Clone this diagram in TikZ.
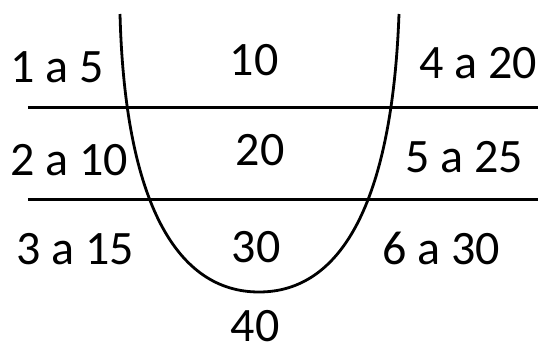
\documentclass[tikz,border=0pt]{standalone}
\usepackage{fontspec}
\setmainfont{Carlito}
\usetikzlibrary{positioning}

\begin{document}
\begin{tikzpicture}[
    x=0.5pt, y=-0.5pt,
    lbl/.style={inner sep=0pt, font=\fontsize{24}{28}\selectfont},
    rule/.style={line width=1.5pt},
    curve/.style={line width=1.4pt}
]
    \useasboundingbox (0,0) rectangle (538,349);

    % the U shape
    \coordinate (topL) at (120,14);
    \coordinate (bottom) at (259,292);
    \coordinate (topR) at (399,14);
    \draw[curve] (topL) .. controls (125,205) and (178,292) .. (bottom)
                 .. controls (340,292) and (392,205) .. (topR);

    % horizontal rules
    \coordinate (r1a) at (28,107);
    \coordinate (r1b) at (538,107);
    \coordinate (r2a) at (28,199);
    \coordinate (r2b) at (538,199);
    \draw[rule] (r1a) -- (r1b);
    \draw[rule] (r2a) -- (r2b);

    % labels
    \node[lbl] (left1) at (57,67) {1 a 5};
    \node[lbl] (mid1) at (254,60) {10};
    \node[lbl] (right1) at (478,63) {4 a 20};
    \node[lbl] (left2) at (69,160) {2 a 10};
    \node[lbl] (mid2) at (260,150) {20};
    \node[lbl] (right2) at (464,157) {5 a 25};
    \node[lbl] (left3) at (75,249) {3 a 15};
    \node[lbl] (mid3) at (256,247) {30};
    \node[lbl] (right3) at (441,248) {6 a 30};
    \node[lbl] (mid4) at (255,326) {40};
\end{tikzpicture}
\end{document}
